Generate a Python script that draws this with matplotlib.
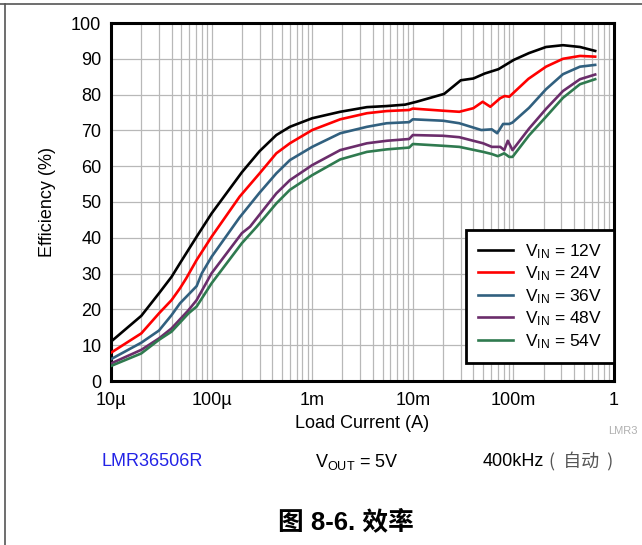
import matplotlib
matplotlib.use("Agg")
import matplotlib.pyplot as plt
from matplotlib.lines import Line2D
from matplotlib.ticker import FixedLocator, LogLocator, NullFormatter

plt.rcParams["font.family"] = ["Liberation Sans", "DejaVu Sans"]

# ---- data (load current in A, efficiency in %) ----
i_12v = [1e-5, 2e-5, 3e-5, 4e-5, 4.85e-5, 7.1e-5, 1e-4, 2e-4, 3e-4, 4.4e-4,
         6e-4, 1e-3, 1.9e-3, 3.5e-3, 5.5e-3, 8.4e-3, 1.09e-2, 2.05e-2, 3e-2,
         4e-2, 5.2e-2, 7.1e-2, 0.101, 0.143, 0.211, 0.311, 0.459, 0.65]
eff_12v = [11.0, 18.2, 24.5, 29.1, 32.9, 40.3, 46.8, 58.3, 64.2, 68.7,
           71.0, 73.4, 75.2, 76.5, 76.8, 77.2, 78.0, 80.2, 84.0,
           84.5, 85.9, 87.1, 89.7, 91.6, 93.3, 93.8, 93.3, 92.2]

i_24v = [1e-5, 2e-5, 3e-5, 4e-5, 4.85e-5, 5.6e-5, 7.1e-5, 1e-4, 1.9e-4, 3e-4,
         4.4e-4, 6e-4, 1e-3, 1.9e-3, 3.5e-3, 5.5e-3, 9.2e-3, 1e-2, 2e-2,
         2.9e-2, 4e-2, 4.95e-2, 5.9e-2, 7.4e-2, 8.2e-2, 9.1e-2, 0.141,
         0.211, 0.311, 0.459, 0.65]
eff_24v = [7.9, 13.3, 18.9, 22.6, 25.9, 28.7, 33.8, 40.3, 51.5, 58.0,
           63.6, 66.4, 70.1, 73.1, 74.8, 75.4, 75.7, 76.1, 75.5,
           75.2, 76.2, 78.0, 76.6, 79.0, 79.6, 79.4, 84.4,
           87.8, 90.0, 90.8, 90.6]

i_36v = [1e-5, 2e-5, 3e-5, 4e-5, 4.85e-5, 7.1e-5, 8e-5, 1e-4, 1.9e-4, 3e-4,
         4.4e-4, 6e-4, 1e-3, 1.9e-3, 3.5e-3, 5.5e-3, 9.2e-3, 1e-2, 2e-2,
         2.9e-2, 4.8e-2, 6.1e-2, 6.9e-2, 7.9e-2, 9.1e-2, 0.098, 0.143,
         0.211, 0.311, 0.459, 0.65]
eff_36v = [6.1, 10.7, 14.1, 18.4, 21.7, 26.5, 30.1, 34.7, 45.7, 52.6,
           58.0, 61.7, 65.4, 69.2, 71.0, 72.0, 72.3, 73.1, 72.7,
           72.0, 70.1, 70.3, 69.2, 71.8, 71.8, 72.2, 76.3,
           81.5, 85.7, 87.8, 88.3]

i_48v = [1e-5, 2e-5, 3e-5, 4e-5, 5.9e-5, 7.1e-5, 1e-4, 2e-4, 2.41e-4, 4.4e-4,
         6e-4, 1e-3, 1.9e-3, 3.5e-3, 5.5e-3, 9.2e-3, 1e-2, 2e-2, 2.9e-2,
         5e-2, 6.1e-2, 7.4e-2, 8.1e-2, 8.8e-2, 9.8e-2, 0.143, 0.211,
         0.311, 0.459, 0.65]
eff_48v = [4.9, 8.7, 11.9, 14.7, 19.8, 22.6, 30.1, 41.3, 43.1, 52.4,
           56.1, 60.3, 64.5, 66.4, 67.1, 67.6, 68.7, 68.5, 68.1,
           66.4, 65.4, 65.4, 64.5, 67.1, 64.5, 70.5, 76.0,
           81.0, 84.3, 85.6]

i_54v = [1e-5, 2e-5, 3e-5, 4e-5, 5.9e-5, 7.1e-5, 1e-4, 2e-4, 2.81e-4, 4.4e-4,
         6e-4, 1e-3, 1.9e-3, 3.5e-3, 5.5e-3, 9.2e-3, 1e-2, 2e-2, 2.9e-2,
         5e-2, 6.1e-2, 7e-2, 8.1e-2, 9.1e-2, 9.8e-2, 0.143, 0.211,
         0.311, 0.459, 0.65]
eff_54v = [4.2, 7.7, 11.5, 13.8, 18.9, 20.8, 27.3, 38.5, 43.1, 49.6,
           53.4, 57.5, 61.9, 64.0, 64.7, 65.2, 66.2, 65.7, 65.4,
           64.0, 63.4, 62.8, 63.6, 62.6, 62.6, 68.6, 73.8,
           79.1, 82.9, 84.3]

vin_labels = ["12V", "24V", "36V", "48V", "54V"]
colors = ["#000000", "#ff0000", "#31607f", "#6b2d6b", "#2f7a4f"]

x_ticks = [1e-5, 1e-4, 1e-3, 1e-2, 1e-1, 1]
x_tick_labels = ["10\u00b5", "100\u00b5", "1m", "10m", "100m", "1"]
y_ticks = list(range(0, 101, 10))

W, H = 642, 545
fig = plt.figure(figsize=(W / 100, H / 100), dpi=100)
ax = fig.add_axes([111 / W, 1 - 381 / H, 503 / W, 358 / H])

series = [(i_12v, eff_12v), (i_24v, eff_24v), (i_36v, eff_36v),
          (i_48v, eff_48v), (i_54v, eff_54v)]
for (cur, eff), c, lab in zip(series, colors, vin_labels):
    ax.plot(cur, eff, color=c, lw=1.9,
            label=r"$\mathregular{V_{IN}}$ = " + lab, zorder=3)

ax.set_xscale("log")
ax.set_xlim(1e-5, 1)
ax.set_ylim(0, 100)
ax.xaxis.set_major_locator(FixedLocator(x_ticks))
ax.set_xticklabels(x_tick_labels)
ax.xaxis.set_minor_locator(LogLocator(base=10, subs=range(2, 10)))
ax.xaxis.set_minor_formatter(NullFormatter())
ax.set_yticks(y_ticks)
ax.grid(True, which="both", color="#b8b8b8", lw=0.9, zorder=0)
ax.tick_params(which="both", length=0, labelsize=13)
ax.tick_params(axis="x", pad=8)
ax.tick_params(axis="y", pad=7)
for sp in ax.spines.values():
    sp.set_linewidth(2.2)

leg = ax.legend(loc="lower right", bbox_to_anchor=(1.0, 0.051),
                borderaxespad=0, fontsize=12.5, handlelength=2.0,
                labelspacing=0.22, fancybox=False, framealpha=1,
                edgecolor="black", borderpad=0.7, handletextpad=0.7)
leg.get_frame().set_linewidth(2.0)
leg.set_zorder(5)

# axis titles and annotations
fig.text(48 / W, 1 - 202 / H, "Efficiency (%)", rotation=90,
         ha="center", va="center", fontsize=13)
fig.text(362 / W, 1 - 423 / H, "Load Current (A)",
         ha="center", va="center", fontsize=13)
fig.text(608 / W, 1 - 431 / H, "LMR3", ha="left", va="center",
         fontsize=8, color="#b0b0b0")
fig.text(152 / W, 1 - 462 / H, "LMR36506R", ha="center", va="center",
         fontsize=13, color="#2323e6")
fig.text(357 / W, 1 - 462 / H, r"$\mathregular{V_{OUT}}$ = 5V",
         ha="center", va="center", fontsize=13)
fig.text(483 / W, 1 - 462 / H, "400kHz", ha="left", va="center",
         fontsize=13)
fig.text(549 / W, 1 - 462 / H, "(  \u81ea\u52a8  )", ha="left", va="center",
         fontsize=13, color="#555555",
         family=["Noto Sans CJK SC", "DejaVu Sans"])
fig.text(346 / W, 1 - 522 / H, "\u56fe 8-6. \u6548\u7387", ha="center",
         va="center", fontsize=18.5, fontweight="bold",
         family=["Liberation Sans", "Noto Sans CJK SC"])

# document frame lines at the top and left
fig.add_artist(Line2D([0, 1], [1 - 4 / H, 1 - 4 / H],
                      transform=fig.transFigure, color="#555555", lw=1.2))
fig.add_artist(Line2D([5 / W, 5 / W], [0, 1 - 4 / H],
                      transform=fig.transFigure, color="#555555", lw=1.2))

fig.savefig("out.png", dpi=100)
plt.close(fig)
